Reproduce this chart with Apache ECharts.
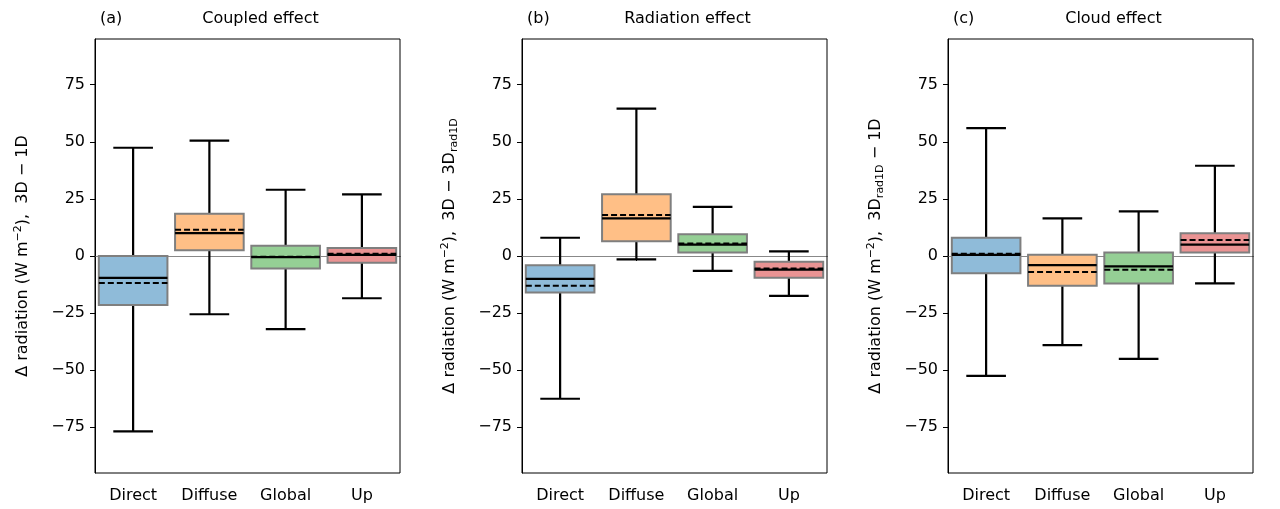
<!DOCTYPE html>
<html><head><meta charset="utf-8">
<script src="https://cdn.jsdelivr.net/npm/echarts@6/dist/echarts.min.js"></script>
<style>html,body{margin:0;padding:0;background:#fff}#c{width:1280px;height:509px}</style>
</head><body><div id="c"></div>
<script>
const categories = ['Direct','Diffuse','Global','Up'];
const colors = ['#8fbbd9','#ffbf86','#95cf95','#ea9393'];
// [whiskerLow, Q1, median, Q3, whiskerHigh, mean]
const coupled = [[-76.8,-21.5,-9.6,0,47.4,-11.8],[-25.5,2.5,10,18.5,50.5,11.5],[-32,-5.5,-0.5,4.5,29,-0.3],[-18.5,-3,0.5,3.5,27,1]];
const radiation = [[-62.5,-16,-10,-4,8,-13],[-1.5,6.5,16.5,27,64.5,18],[-6.5,1.5,5,9.5,21.5,5.5],[-17.5,-9.5,-6,-2.5,2,-5.5]];
const cloud = [[-52.5,-7.5,0.5,8,56,1],[-39,-13,-4,0.5,16.5,-7],[-45,-12,-4.5,1.5,19.5,-6],[-12,1.5,5,10,39.5,7]];
const yTicks = [-75,-50,-25,0,25,50,75];
const panels = [coupled, radiation, cloud];
const titles = ['Coupled effect','Radiation effect','Cloud effect'];
const tags = ['(a)','(b)','(c)'];
const lefts = [95,522,948];
const W = 305, TOP = 39, H = 434;
const font = 'DejaVu Sans';
const FS = 16;
const yNames = [
  '{t|Δ radiation (W m}{sup|−2}{t|),  3D − 1D}',
  '{t|Δ radiation (W m}{sup|−2}{t|),  3D − 3D}{sub|rad1D}',
  '{t|Δ radiation (W m}{sup|−2}{t|),  3D}{sub|rad1D}{t| − 1D}'
];
const rich = {t:{fontSize:FS,fontFamily:font,color:'#000'},sup:{fontSize:11,fontFamily:font,verticalAlign:'top',padding:[0,0,9,0],color:'#000'},sub:{fontSize:11,fontFamily:font,padding:[9,0,0,0],color:'#000'}};
const grid=[],xAxis=[],yAxis=[],series=[],title=[];
panels.forEach((d,i)=>{
  grid.push({left:lefts[i],top:TOP,width:W,height:H});
  xAxis.push({gridIndex:i,type:'category',data:categories,axisTick:{show:true,length:5,alignWithLabel:true,lineStyle:{color:'#000'}},
    axisLine:{lineStyle:{color:'#000'}},axisLabel:{fontSize:FS,fontFamily:font,color:'#000',margin:15}});
  yAxis.push({gridIndex:i,type:'value',min:-95,max:95,interval:25,
    axisLabel:{fontSize:FS,fontFamily:font,color:'#000',margin:10,customValues:yTicks,formatter:v=>String(v).replace('-','−')},
    axisTick:{show:true,length:5,customValues:yTicks,lineStyle:{color:'#000'}},
    axisLine:{show:true,lineStyle:{color:'#000'}},splitLine:{show:false},
    name:yNames[i],nameLocation:'middle',nameGap:62,nameRotate:90,nameTextStyle:{rich:rich}});
  title.push({text:tags[i],left:lefts[i],top:6,textStyle:{fontSize:FS,fontWeight:'normal',fontFamily:font,color:'#000'}});
  title.push({text:titles[i],left:lefts[i]+W/2+8,top:6,textAlign:'center',textStyle:{fontSize:FS,fontWeight:'normal',fontFamily:font,color:'#000'}});
  series.push({type:'custom',xAxisIndex:i,yAxisIndex:i,data:d.map((v,k)=>[k].concat(v)),
    renderItem:function(params,api){
      const k=api.value(0);
      const band=api.size([1,0])[0];
      const x=api.coord([k,0])[0];
      const y=v=>api.coord([k,v])[1];
      const lo=api.value(1),q1=api.value(2),med=api.value(3),q3=api.value(4),hi=api.value(5),mean=api.value(6);
      const bw=band*0.9/2, cw=band*0.26;
      const ls={stroke:'#000',lineWidth:2.2};
      return {type:'group',children:[
        {type:'line',shape:{x1:x,y1:y(q3),x2:x,y2:y(hi)},style:ls},
        {type:'line',shape:{x1:x,y1:y(q1),x2:x,y2:y(lo)},style:ls},
        {type:'line',shape:{x1:x-cw,y1:y(hi),x2:x+cw,y2:y(hi)},style:ls},
        {type:'line',shape:{x1:x-cw,y1:y(lo),x2:x+cw,y2:y(lo)},style:ls},
        {type:'rect',shape:{x:x-bw,y:y(q3),width:2*bw,height:y(q1)-y(q3)},style:{fill:colors[k],stroke:'#7f7f7f',lineWidth:2}},
        {type:'line',shape:{x1:x-bw,y1:y(med),x2:x+bw,y2:y(med)},style:ls},
        {type:'line',shape:{x1:x-bw,y1:y(mean),x2:x+bw,y2:y(mean)},style:{stroke:'#000',lineWidth:2,lineDash:[6,3]}}
      ]};
    },
    markLine:{silent:true,symbol:'none',z:1,label:{show:false},lineStyle:{color:'#888',width:1,type:'solid'},data:[{yAxis:0}]},
    z:3});
});
const chart=echarts.init(document.getElementById('c'));
const graphic=lefts.map(l=>({type:'rect',shape:{x:l,y:TOP,width:W,height:H},style:{fill:'none',stroke:'#000',lineWidth:1},z:10,silent:true}));
chart.setOption({animation:false,grid,xAxis,yAxis,series,title,graphic});
</script></body></html>
